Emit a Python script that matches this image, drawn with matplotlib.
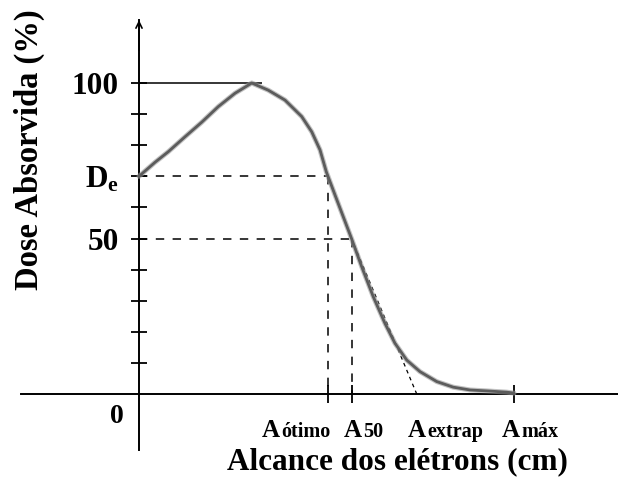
import matplotlib
matplotlib.use('Agg')
import matplotlib.pyplot as plt

plt.rcParams['font.family'] = ['Liberation Serif', 'DejaVu Serif']
plt.rcParams['font.weight'] = 'bold'
plt.rcParams['mathtext.fontset'] = 'custom'
plt.rcParams['mathtext.rm'] = 'Liberation Serif:bold'
plt.rcParams['mathtext.it'] = 'Liberation Serif:bold'
plt.rcParams['mathtext.bf'] = 'Liberation Serif:bold'

# Percentage depth-dose curve for an electron beam
depth = [0.00, 0.64, 1.17, 1.84, 2.51, 3.17, 3.84, 4.51, 5.17, 5.84, 6.51,
         6.91, 7.24, 7.49, 7.56, 7.84, 8.17, 8.50, 8.91, 9.37, 9.84,
         10.24, 10.71, 11.24, 11.91, 12.57, 13.24, 13.91, 14.71, 15.00]
dose = [70.0, 74.5, 77.9, 82.7, 87.4, 92.4, 96.7, 100.0, 97.7, 94.5, 89.2,
        84.3, 78.5, 71.5, 70.0, 64.0, 57.0, 50.0, 40.9, 31.3, 22.7,
        16.3, 10.9, 7.2, 4.0, 2.2, 1.3, 1.0, 0.6, 0.3]

# Characteristic ranges and dose levels
r_otimo = 7.56
r_50 = 8.50
r_extrap = 11.11
r_max = 15.0
d_max = 100
d_e = 70
d_50 = 50
depth_peak = 4.92

ytick_vals = [10, 20, 30, 40, 50, 60, 70, 80, 90, 100]
ytick_labels = ['', '', '', '', '50', '', r'$\mathrm{D}_{\mathrm{e}}$', '', '', '100']
range_names = ['ótimo', '50', 'extrap', 'máx']
range_vals = [r_otimo, r_50, r_extrap, r_max]
label_shift = [-2.64, -0.30, -0.36, -0.48]

fig = plt.figure(figsize=(6.18, 5.01), dpi=100)
ax = fig.add_axes([21 / 618, 51 / 501, 597 / 618, 430 / 501])
ax.set_xlim(-4.72, 19.16)
ax.set_ylim(-18.0, 120.26)

for side in ('top', 'right'):
    ax.spines[side].set_visible(False)
for side in ('left', 'bottom'):
    ax.spines[side].set_position(('data', 0))
    ax.spines[side].set_linewidth(1.4)

# arrow head on the dose axis
ax.annotate('', xy=(0, 1.0), xycoords=('data', 'axes fraction'),
            xytext=(0, 0.93), textcoords=('data', 'axes fraction'),
            arrowprops=dict(arrowstyle='->,head_length=0.45,head_width=0.22',
                            lw=1.2, color='black', shrinkA=0, shrinkB=0))

ax.set_yticks(ytick_vals)
ax.set_yticklabels(ytick_labels)
ax.tick_params(axis='y', direction='inout', length=11, width=1.3,
               pad=9, labelsize=22.5)
ax.set_xticks([r_otimo, r_50, r_max])
ax.set_xticklabels([])
ax.tick_params(axis='x', direction='inout', length=13, width=1.3)

# reference lines
ax.hlines(d_max, 0, depth_peak, color='black', lw=1.1, zorder=2)
dash = dict(color='black', lw=1.1, dashes=(5.5, 5.5), zorder=2)
ax.plot([0, r_otimo], [d_e, d_e], **dash)
ax.plot([r_otimo, r_otimo], [d_e, 0], **dash)
ax.plot([0, r_50], [d_50, d_50], **dash)
ax.plot([r_50, r_50], [d_50, 0], **dash)
ax.plot([r_50, r_extrap], [d_50, 0], color='black', lw=0.9,
        dashes=(3, 3), zorder=2)

# depth-dose curve
ax.plot(depth, dose, color='#9a9a9a', lw=3.6, alpha=0.6,
        solid_capstyle='round', solid_joinstyle='round', zorder=3)
ax.plot(depth, dose, color='#5c5c5c', lw=2.0, solid_capstyle='round',
        solid_joinstyle='round', zorder=4)

# range labels under the depth axis
for name, val, shift in zip(range_names, range_vals, label_shift):
    ax.annotate('A', xy=(val + shift, -13.8), fontsize=18, ha='left',
                va='baseline', annotation_clip=False)
    ax.annotate(name, xy=(val + shift, -13.8), xytext=(13.8, 0),
                textcoords='offset points', fontsize=14.5, ha='left',
                va='baseline', annotation_clip=False)

ax.text(-0.88, -7.1, '0', fontsize=20, ha='center', va='center')

fig.text(29 / 618, 1 - 150 / 501, 'Dose Absorvida (%)', rotation=90,
         fontsize=23.5, ha='center', va='center')
fig.text(397 / 618, 1 - 462 / 501, 'Alcance dos elétrons (cm)',
         fontsize=22.5, ha='center', va='center')

fig.savefig('out.png', dpi=100)
